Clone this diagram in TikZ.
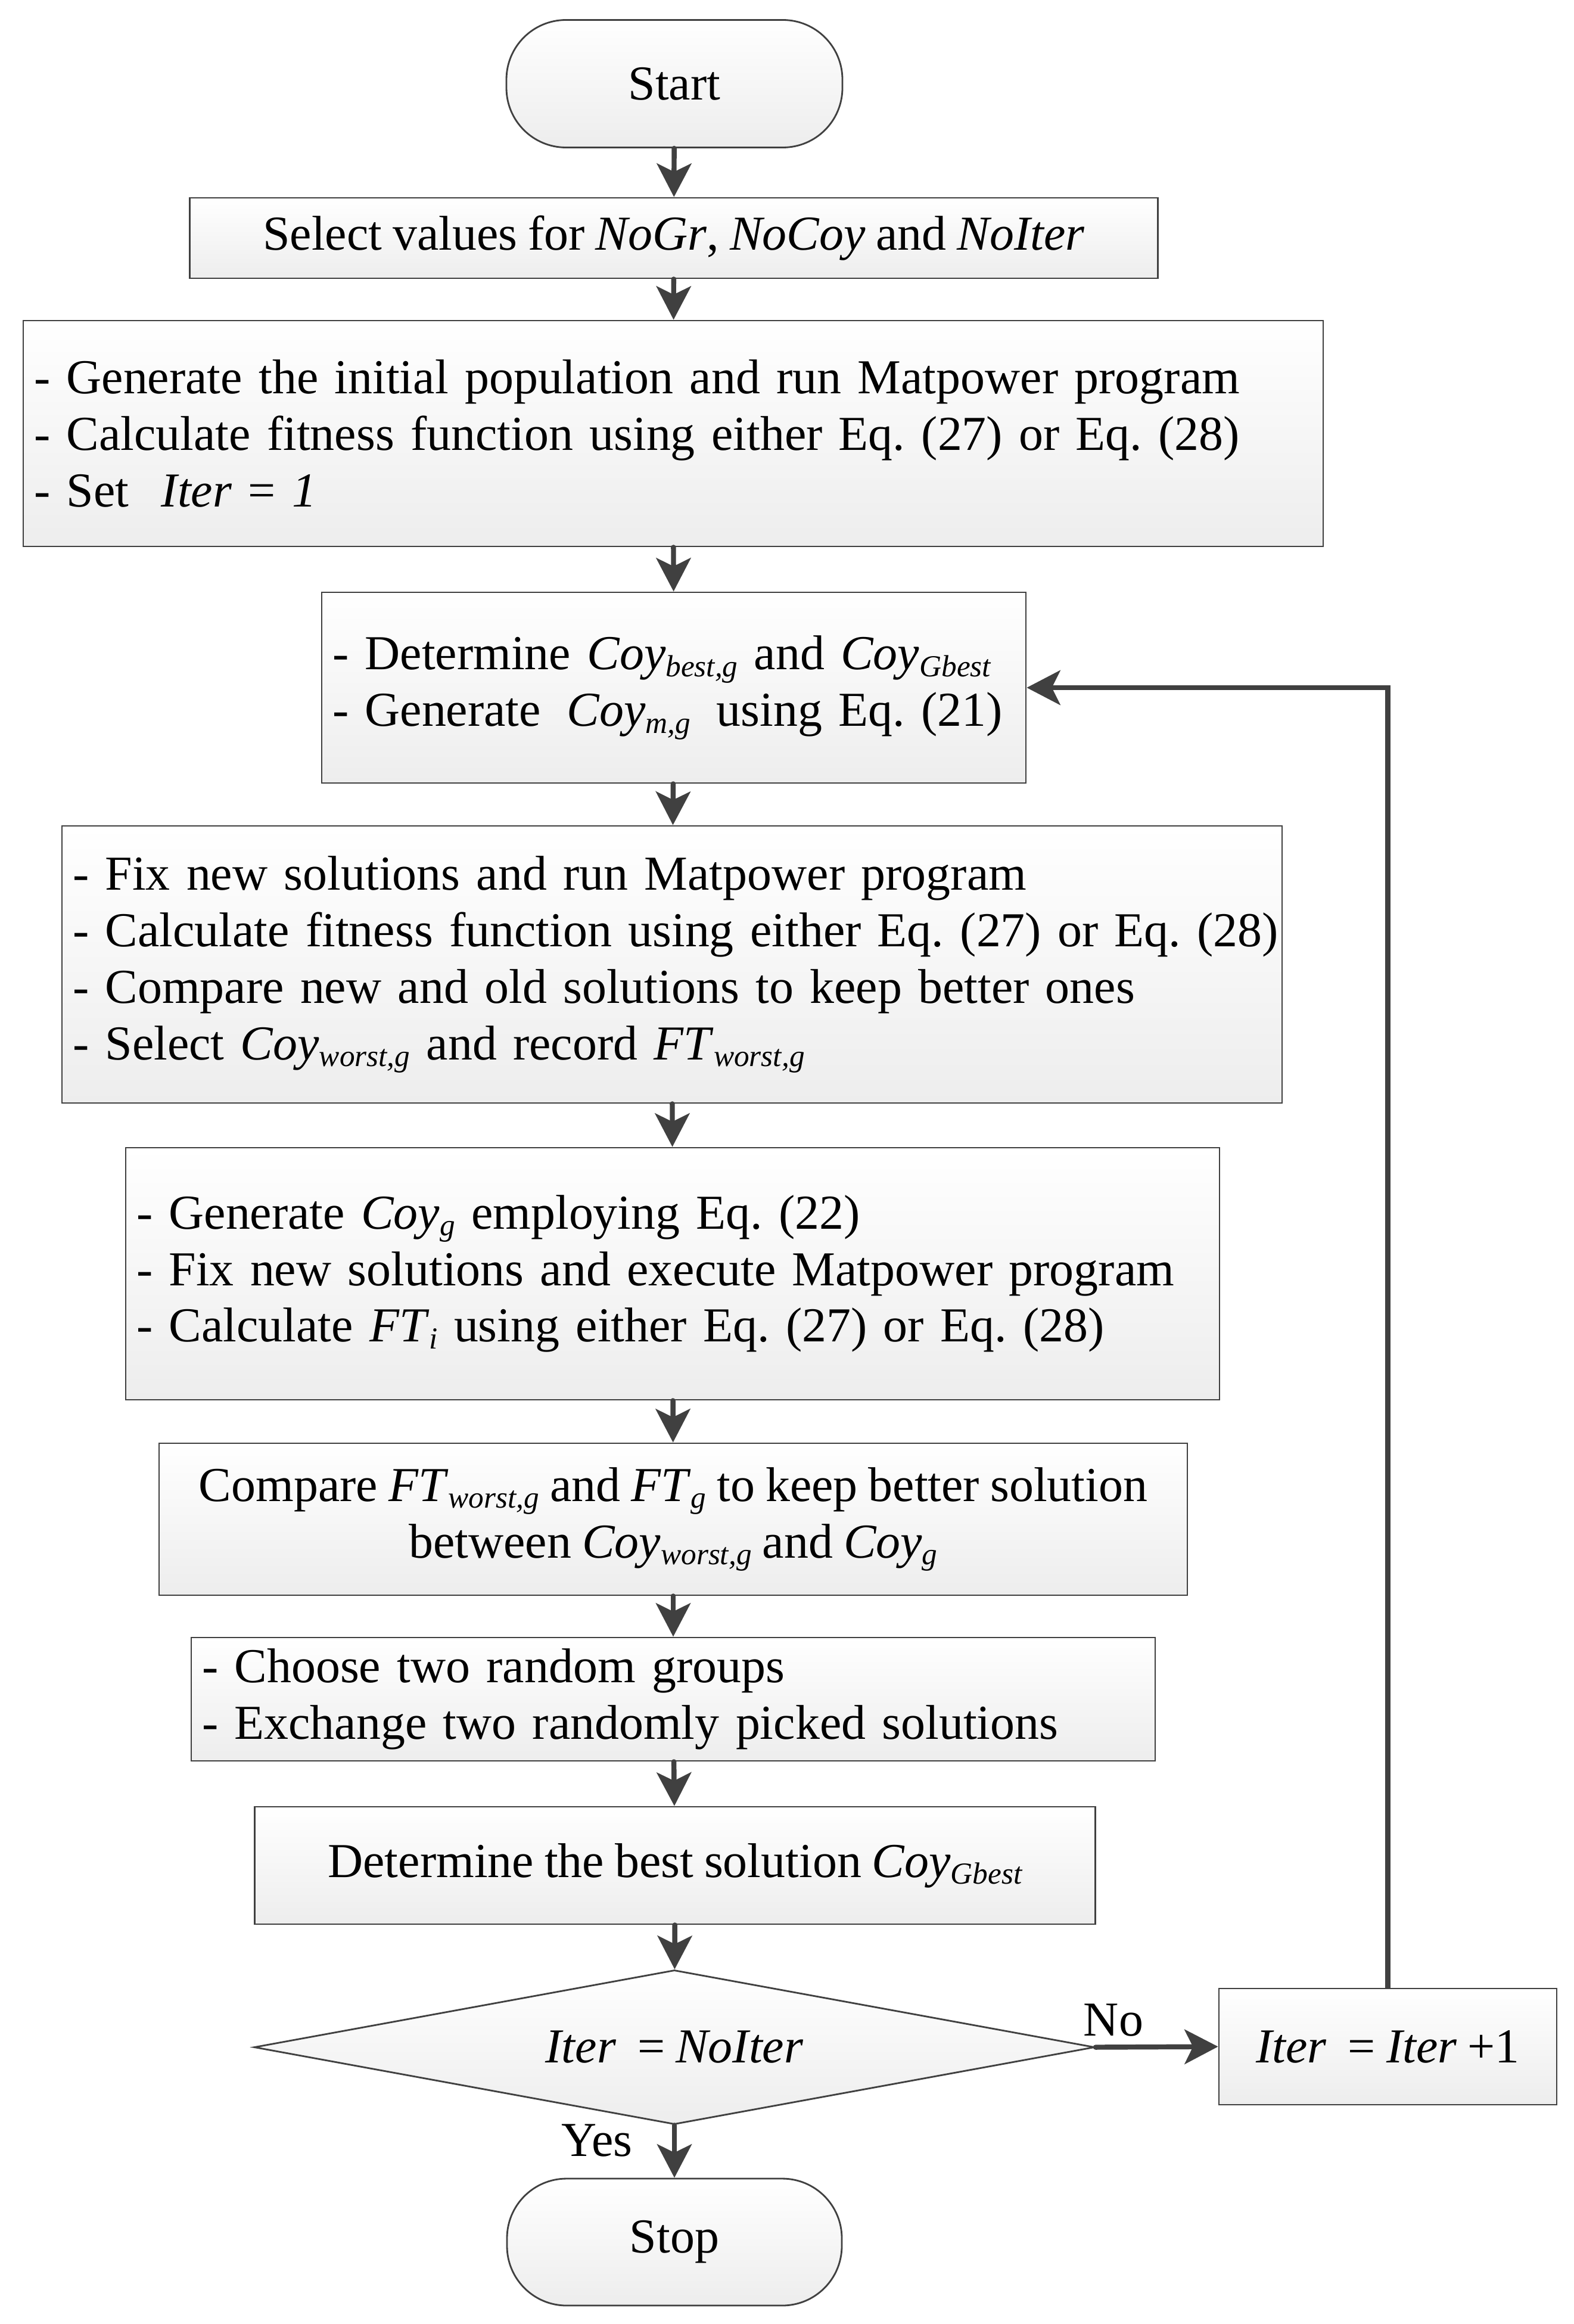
\documentclass[tikz,border=0pt]{standalone}
\usepackage{fontspec}
\setmainfont{Liberation Serif}[WordSpace=0.88]
\frenchspacing
\usetikzlibrary{arrows.meta,shapes.geometric}
\definecolor{linec}{HTML}{404040}
\definecolor{fillb}{HTML}{EDEDED}
\newcommand{\mysub}[1]{\raisebox{-0.3ex}{\fontsize{14.6}{15}\selectfont\itshape #1}}
\newcommand{\mainsize}{\fontsize{23.3}{27}\selectfont\frenchspacing}
\tikzset{
  box/.style={draw=linec, line width=0.8pt, top color=white, bottom color=fillb,
    rectangle, inner ysep=0pt, font=\mainsize},
  lbox/.style={box, inner xsep=0.18cm, align=left},
  cbox/.style={box, inner xsep=0.1cm, align=center},
  term/.style={box, rounded corners=#1},
  arr/.style={-{Stealth[length=16pt,width=16.5pt,inset=4pt]}, line width=2.4pt, draw=linec, line cap=round},
  lbl/.style={font=\mainsize, inner sep=0pt}
}
\begin{document}
\begin{tikzpicture}
\useasboundingbox (0,0) rectangle (26.42,-39);
\node[term=1.0cm, minimum width=5.64cm, minimum height=2.14cm] (start) at (11.32,-1.405) {Start};
\node[cbox, minimum width=16.25cm, minimum height=1.35cm] (sel) at (11.31,-3.995)
  {Select values for \textit{NoGr}, \textit{NoCoy} and \textit{NoIter}};
\node[lbox, text width=21.46cm, minimum height=3.79cm] (gen) at (11.30,-7.275)
  {\mbox{- Generate the initial population and run Matpower program}\\
   \mbox{- Calculate fitness function using either Eq. (27) or Eq. (28)}\\
   \mbox{- Set \ \textit{Iter} = \textit{1}}};
\node[lbox, text width=11.46cm, minimum height=3.20cm] (det) at (11.31,-11.54)
  {\mbox{- Determine \textit{Coy}\mysub{best,g} and \textit{Coy}\mysub{Gbest}}\\
   \mbox{- Generate\hspace{0.2em} \textit{Coy}\mysub{m,g}\hspace{0.2em} using Eq. (21)}};
\node[lbox, text width=20.12cm, minimum height=4.65cm] (fix) at (11.28,-16.185)
  {\mbox{- Fix new solutions and run Matpower program}\\
   \mbox{- Calculate fitness function using either Eq. (27) or Eq. (28)}\\
   \mbox{- Compare new and old solutions to keep better ones}\\
   \mbox{- Select \textit{Coy}\mysub{worst,g} and record \textit{FT}\mysub{worst,g}}};
\node[lbox, text width=18.00cm, minimum height=4.23cm] (gcoy) at (11.29,-21.375)
  {\mbox{- Generate \textit{Coy}\mysub{g} employing Eq. (22)}\\
   \mbox{- Fix new solutions and execute Matpower program}\\
   \mbox{- Calculate \textit{FT}\mysub{i} using either Eq. (27) or Eq. (28)}};
\node[cbox, minimum width=17.26cm, minimum height=2.55cm] (cmp) at (11.30,-25.495)
  {Compare \textit{FT}\mysub{worst,g} and \textit{FT}\mysub{g} to keep better solution\\
   between \textit{Coy}\mysub{worst,g} and \textit{Coy}\mysub{g}};
\node[lbox, text width=15.82cm, minimum height=2.07cm] (cho) at (11.30,-28.515)
  {\mbox{- Choose two random groups}\\
   \mbox{- Exchange two randomly picked solutions}};
\node[cbox, minimum width=14.11cm, minimum height=1.97cm] (best) at (11.33,-31.305)
  {Determine the best solution \textit{Coy}\mysub{Gbest}};
\node[box, diamond, aspect=5.4, inner sep=0pt, minimum width=14.11cm, minimum height=2.59cm] (dia) at (11.32,-34.355)
  {\textit{Iter} \ = \textit{NoIter}};
\node[cbox, minimum width=5.67cm, minimum height=1.95cm] (iter) at (23.295,-34.345)
  {\textit{Iter} \ = \textit{Iter} +1};
\node[term=1.0cm, minimum width=5.62cm, minimum height=2.13cm] (stop) at (11.32,-37.625) {Stop};
\node[lbl] (no) at (18.69,-33.90) {No};
\node[lbl] (yes) at (10.02,-35.92) {Yes};
\draw[arr] (start) -- (sel);
\draw[arr] (sel) -- (gen);
\draw[arr] (gen) -- (det);
\draw[arr] (det) -- (fix);
\draw[arr] (fix) -- (gcoy);
\draw[arr] (gcoy) -- (cmp);
\draw[arr] (cmp) -- (cho);
\draw[arr] (cho) -- (best);
\draw[arr] (best) -- (dia);
\draw[arr] (dia) -- (stop);
\draw[arr] (dia.east) -- (iter.west);
\draw[arr, line cap=butt] (iter.north) |- (det.east);
\end{tikzpicture}
\end{document}
